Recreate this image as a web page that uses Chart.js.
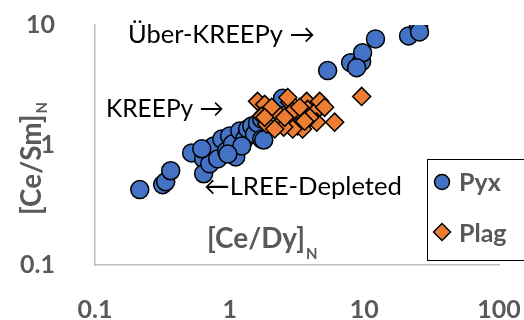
<!DOCTYPE html>
<html>
<head>
<meta charset="utf-8">
<script src="https://cdn.jsdelivr.net/npm/chart.js@4"></script>
<style>
  html, body { margin: 0; padding: 0; background: #ffffff; }
  #wrap { width: 524px; height: 320px; }
</style>
</head>
<body>
<div id="wrap"><canvas id="c" width="524" height="320"></canvas></div>
<script>
// ---------- data ----------
const xTicks = [0.1, 1, 10, 100];
const yTicks = [0.1, 1, 10];

const pyxCeDy = [0.215, 0.318, 0.335, 0.365, 0.522, 0.641, 0.641, 0.711, 0.761, 0.815,
                 0.873, 0.95, 1.0, 1.05, 1.11, 1.19, 1.29, 1.36, 1.46, 1.53,
                 1.61, 1.73, 1.73, 2.47, 0.62, 1.23, 0.97, 1.79,
                 5.34, 7.91, 9.55, 9.71, 12.1, 8.77, 21.3, 25.3, 25.7];
const pyxCeSm = [0.425, 0.467, 0.494, 0.610, 0.859, 0.766, 0.576, 0.697, 0.981, 0.766,
                 1.12, 0.892, 1.19, 1.02, 0.796, 1.31, 1.12, 1.36, 1.44, 1.23,
                 1.52, 1.12, 1.64, 2.45, 0.93, 0.98, 0.84, 1.10,
                 4.17, 4.85, 4.95, 5.87, 7.66, 4.41, 8.11, 9.8, 8.75];

const plagCeDy = [1.61, 1.82, 1.73, 1.88, 2.23, 2.35, 2.79, 2.94, 3.20, 3.73,
                  3.79, 4.28, 4.43, 3.48, 4.66, 6.02, 2.94, 9.55, 2.52, 2.05,
                  2.56, 3.31, 3.93, 5.07, 2.70, 1.82, 3.60, 2.16];
const plagCeSm = [2.31, 2.18, 1.74, 1.49, 1.87, 1.49, 2.27, 1.91, 1.44, 2.31,
                  1.98, 1.87, 1.55, 1.36, 2.31, 1.55, 1.36, 2.54, 1.41, 2.06,
                  1.70, 2.06, 1.70, 2.06, 2.49, 1.70, 1.58, 1.36];

const seriesNames = ['Pyx', 'Plag'];
const xTitle = '[Ce/Dy]';
const yTitle = '[Ce/Sm]';
const titleSub = 'N';
const notes = ['Über-KREEPy →', 'KREEPy →', '←LREE-Depleted'];

// ---------- styles ----------
const BLUE = '#4472C4';
const ORANGE = '#ED7D31';
const GRAY = '#595959';
const AXIS = '#BFBFBF';
const FAM = 'Lato, "Open Sans", sans-serif';

function toPts(xs, ys) { return xs.map((x, i) => ({ x: x, y: ys[i] })); }

function fitSize(ctx, text, weight, target, base) {
  ctx.font = weight + ' ' + base + 'px ' + FAM;
  const w = ctx.measureText(text).width;
  return base * target / w;
}

function noOverhang(sc) {
  sc.paddingTop = 0; sc.paddingBottom = 0; sc.paddingLeft = 0; sc.paddingRight = 0;
}

const overlay = {
  id: 'overlay',
  afterDraw(chart) {
    const ctx = chart.ctx;
    ctx.save();
    ctx.textAlign = 'left';
    ctx.textBaseline = 'alphabetic';

    // annotations
    ctx.fillStyle = '#000000';
    let s = fitSize(ctx, notes[0], 'normal', 187, 25);
    ctx.font = 'normal ' + s + 'px ' + FAM;
    ctx.fillText(notes[0], 128, 43);
    s = fitSize(ctx, notes[1], 'normal', 118, 25);
    ctx.font = 'normal ' + s + 'px ' + FAM;
    ctx.fillText(notes[1], 106, 117);
    s = fitSize(ctx, notes[2], 'normal', 198, 25);
    ctx.font = 'normal ' + s + 'px ' + FAM;
    ctx.fillText(notes[2], 204, 195);

    // x title
    ctx.fillStyle = GRAY;
    s = fitSize(ctx, xTitle, 'bold', 98, 24);
    ctx.font = 'bold ' + s + 'px ' + FAM;
    const wx = ctx.measureText(xTitle).width;
    ctx.fillText(xTitle, 207, 248);
    ctx.font = 'bold 15px ' + FAM;
    ctx.fillText(titleSub, 207 + wx + 1, 259);

    // y title (rotated)
    ctx.save();
    ctx.translate(41, 215);
    ctx.rotate(-Math.PI / 2);
    ctx.font = 'bold ' + s + 'px ' + FAM;
    const wy = ctx.measureText(yTitle).width;
    ctx.fillText(yTitle, 0, 0);
    ctx.font = 'bold 15px ' + FAM;
    ctx.fillText(titleSub, wy + 1, 6);
    ctx.restore();

    // legend
    ctx.strokeStyle = '#000000';
    ctx.lineWidth = 1;
    ctx.strokeRect(427.5, 159.5, 120, 101);
    ctx.lineWidth = 1.5;
    ctx.beginPath();
    ctx.arc(442, 182, 7.5, 0, Math.PI * 2);
    ctx.fillStyle = BLUE;
    ctx.fill();
    ctx.stroke();
    ctx.beginPath();
    ctx.moveTo(442 - 8.5, 232);
    ctx.lineTo(442, 232 - 8.5);
    ctx.lineTo(442 + 8.5, 232);
    ctx.lineTo(442, 232 + 8.5);
    ctx.closePath();
    ctx.fillStyle = ORANGE;
    ctx.fill();
    ctx.stroke();
    ctx.fillStyle = GRAY;
    ctx.font = 'bold 25px ' + FAM;
    ctx.fillText(seriesNames[0], 459, 191);
    ctx.fillText(seriesNames[1], 459, 242);
    ctx.restore();
  }
};

const tickFont = { family: FAM, size: 25, weight: 'bold' };

new Chart(document.getElementById('c'), {
  type: 'scatter',
  data: {
    datasets: [
      {
        label: seriesNames[0],
        data: toPts(pyxCeDy, pyxCeSm),
        backgroundColor: BLUE,
        borderColor: '#000000',
        borderWidth: 1.5,
        pointRadius: 9,
        pointStyle: 'circle',
        order: 2
      },
      {
        label: seriesNames[1],
        data: toPts(plagCeDy, plagCeSm),
        backgroundColor: ORANGE,
        borderColor: '#000000',
        borderWidth: 1.5,
        pointRadius: 9,
        pointStyle: 'rectRot',
        order: 1
      }
    ]
  },
  options: {
    responsive: false,
    animation: false,
    events: [],
    layout: { autoPadding: false, padding: { top: 25, right: 25, left: 0, bottom: 0 } },
    plugins: { legend: { display: false }, tooltip: { enabled: false } },
    scales: {
      x: {
        type: 'logarithmic',
        min: 0.1, max: 100,
        grid: { display: false },
        border: { display: true, color: AXIS, width: 1.5 },
        afterBuildTicks: (sc) => { sc.ticks = xTicks.map(v => ({ value: v })); },
        afterFit: (sc) => { sc.height = 55; noOverhang(sc); },
        ticks: {
          autoSkip: false, maxRotation: 0, padding: 22,
          font: tickFont, color: GRAY,
          callback: (v) => String(v)
        }
      },
      y: {
        type: 'logarithmic',
        min: 0.1, max: 10,
        grid: { display: false },
        border: { display: true, color: AXIS, width: 1.5 },
        afterBuildTicks: (sc) => { sc.ticks = yTicks.map(v => ({ value: v })); },
        afterFit: (sc) => { sc.width = 95; noOverhang(sc); },
        ticks: {
          autoSkip: false, padding: 32,
          font: tickFont, color: GRAY,
          callback: (v) => String(v)
        }
      }
    }
  },
  plugins: [overlay]
});
</script>
</body>
</html>
